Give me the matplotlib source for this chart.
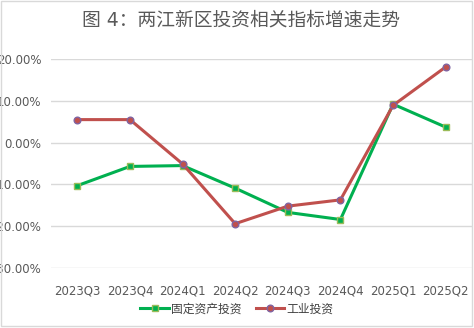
import matplotlib
matplotlib.use("Agg")
import matplotlib.pyplot as plt
from matplotlib.patches import Rectangle
from matplotlib.ticker import FuncFormatter

plt.rcParams['font.family'] = ['DejaVu Sans', 'Noto Sans CJK SC']

categories = ["2023Q3", "2023Q4", "2024Q1", "2024Q2", "2024Q3", "2024Q4", "2025Q1", "2025Q2"]
fixed_asset = [-10.3, -5.7, -5.5, -10.9, -16.7, -18.4, 9.2, 3.7]
industrial = [5.5, 5.5, -5.1, -19.4, -15.2, -13.7, 8.9, 18.1]
series_names = ["固定资产投资", "工业投资"]
title = "图 4：两江新区投资相关指标增速走势"
yticks = [20, 10, 0, -10, -20, -30]

W, H = 474, 328
fig = plt.figure(figsize=(W / 100, H / 100), dpi=100)
fig.patch.set_facecolor("white")

left, right, top, bottom = 51, 472, 59, 268
ax = fig.add_axes([left / W, 1 - bottom / H, (right - left) / W, (bottom - top) / H])

x = list(range(len(categories)))
ax.plot(x, fixed_asset, color="#00B050", lw=2.2, marker="s", ms=4.3,
        mfc="#00B050", mec="#9BBB59", mew=1.0, label=series_names[0], zorder=3)
ax.plot(x, industrial, color="#C0504D", lw=2.2, marker="o", ms=4.8,
        mfc="#C0504D", mec="#8064A2", mew=1.0, label=series_names[1], zorder=4)

ax.set_xlim(-0.5, len(categories) - 0.5)
ax.set_ylim(-30, 20)
ax.set_yticks(yticks)
ax.yaxis.set_major_formatter(FuncFormatter(lambda v, p: f"{v:.2f}%"))
ax.set_xticks(x)
ax.set_xticklabels(categories)
ax.grid(axis="y", color="#D9D9D9", lw=1.0)
ax.set_axisbelow(True)
for s in ax.spines.values():
    s.set_visible(False)
ax.tick_params(axis="both", length=0, labelsize=8.5, labelcolor="#595959")
ax.tick_params(axis="x", pad=12)
ax.tick_params(axis="y", pad=7)

fig.text(241 / W, 1 - 20 / H, title, ha="center", va="center",
         fontsize=13.5, color="#595959")

leg = fig.legend(loc="center", bbox_to_anchor=(237 / W, 1 - 309 / H), ncol=2,
                 frameon=False, fontsize=8.5, handlelength=2.4, columnspacing=1.2,
                 handletextpad=0.2)
for t in leg.get_texts():
    t.set_color("#404040")

fig.patches.append(Rectangle((0.5 / W, 1 - 325.5 / H), 471.5 / W, 325 / H,
                             transform=fig.transFigure, fill=False,
                             edgecolor="#D9D9D9", lw=1.0))

fig.savefig("out.png", dpi=100)
